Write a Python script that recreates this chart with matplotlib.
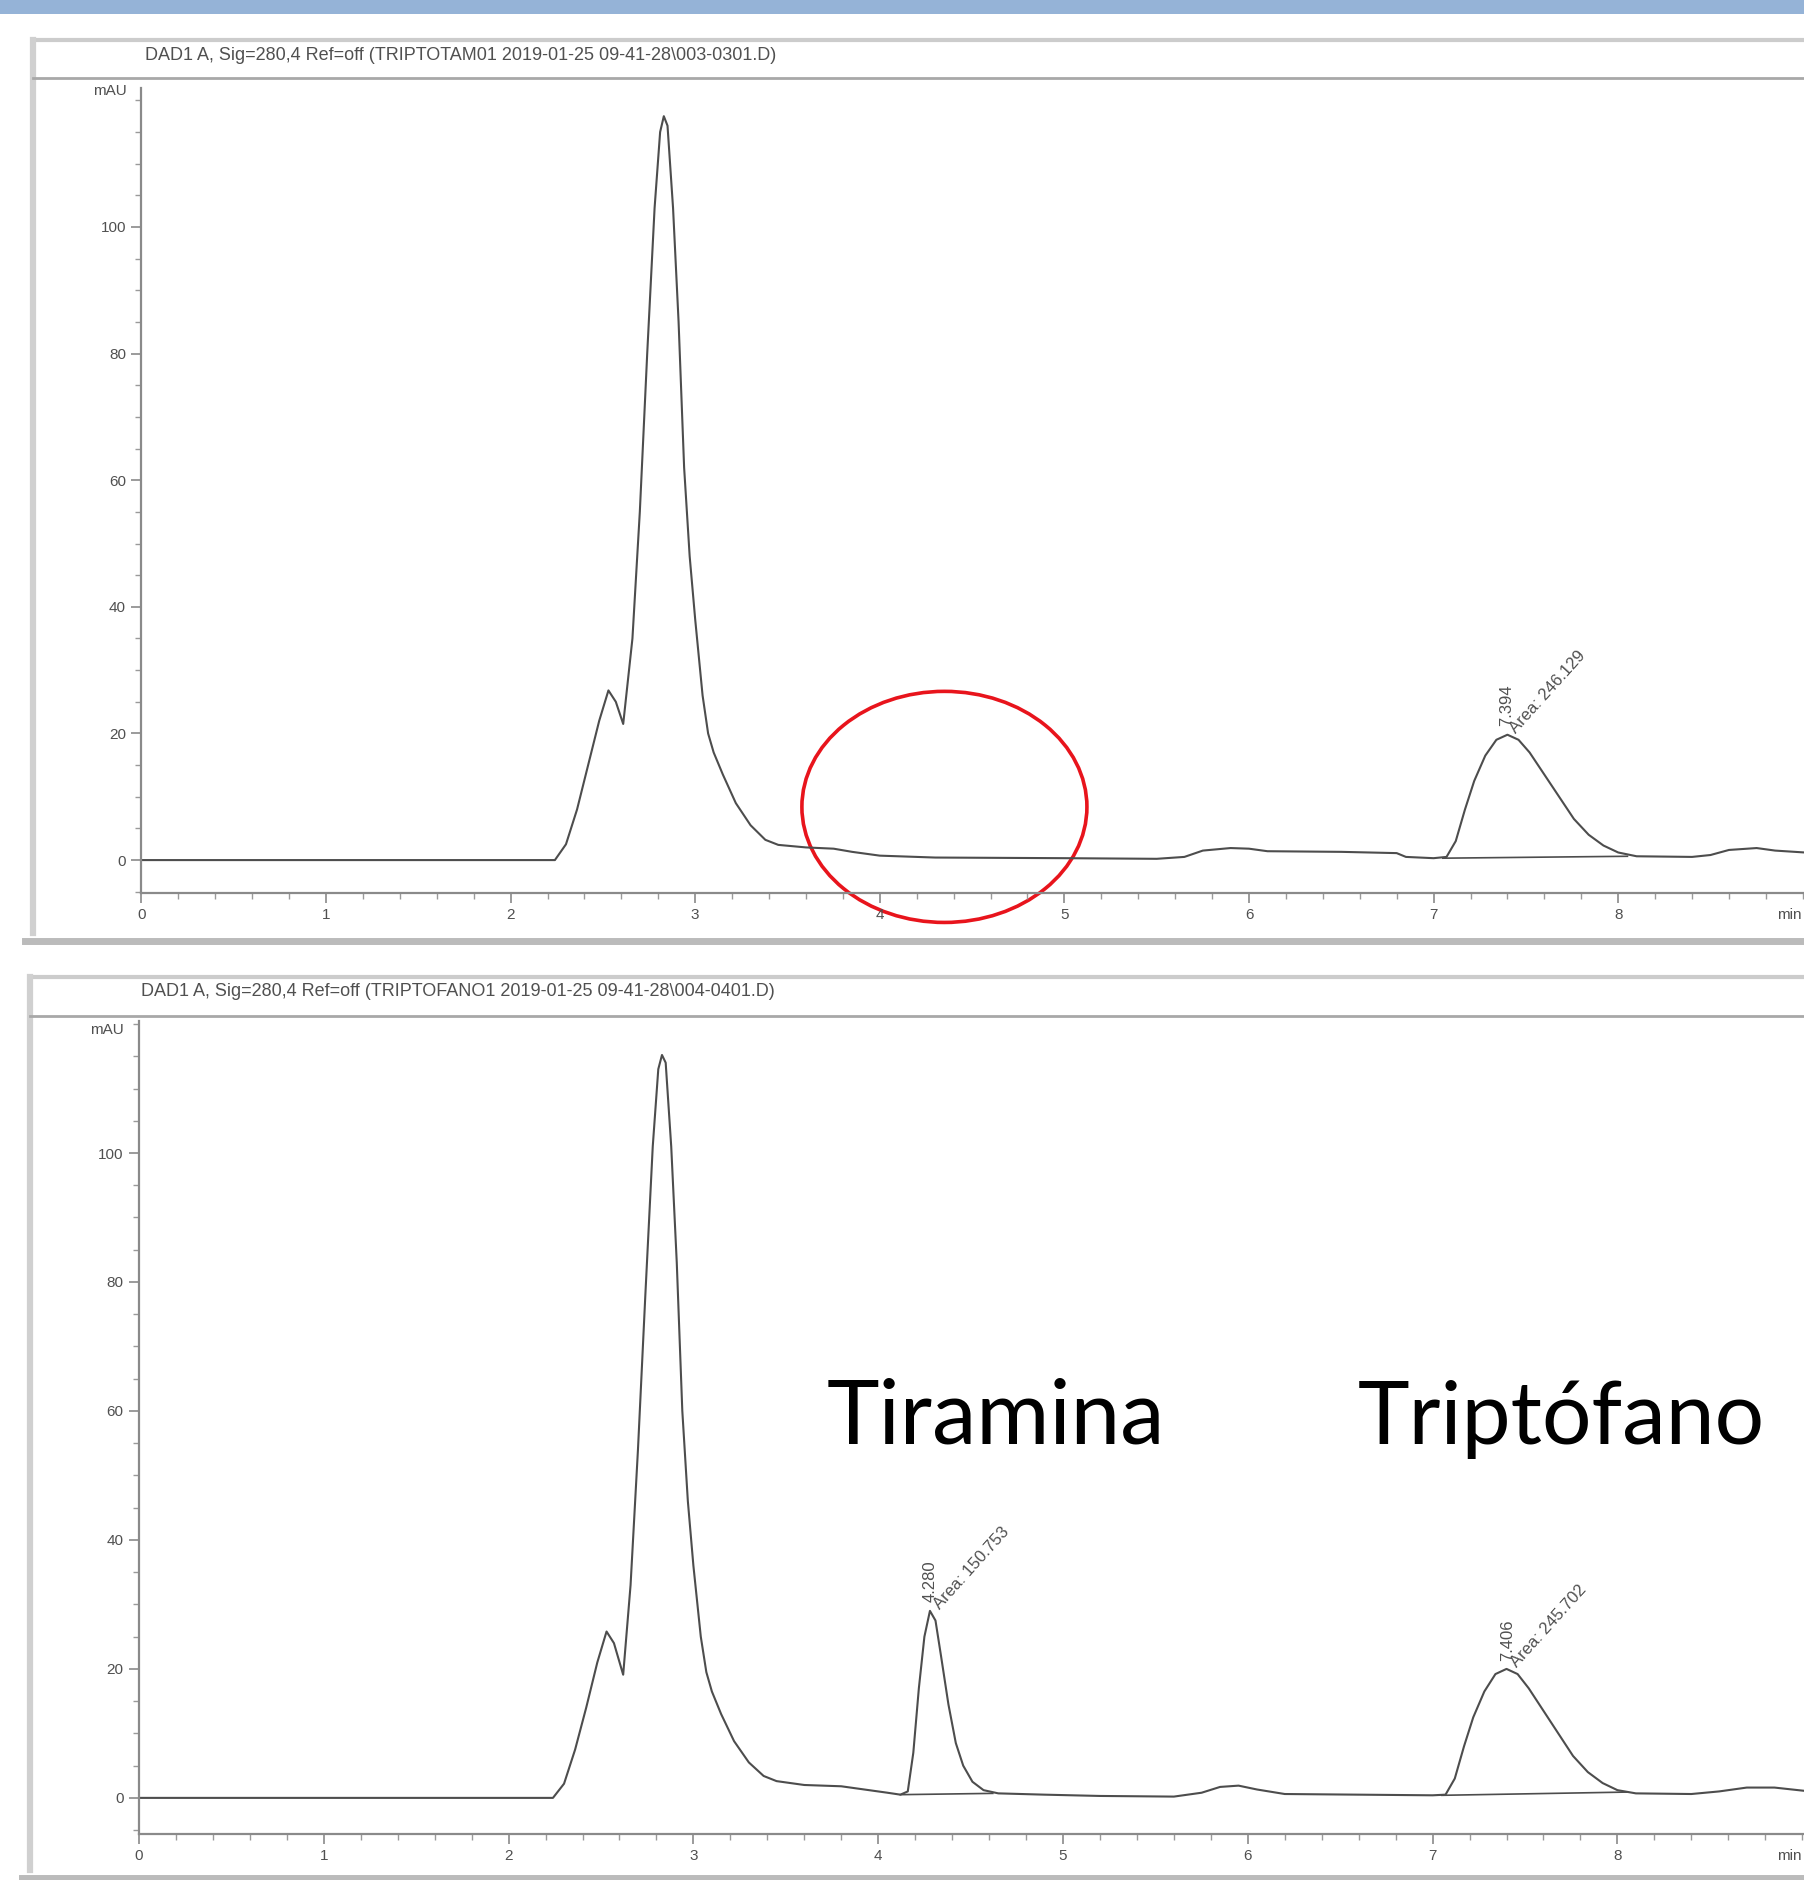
import matplotlib
matplotlib.use("Agg")
import matplotlib.pyplot as plt
from matplotlib.patches import Ellipse, Rectangle
from matplotlib.lines import Line2D
from matplotlib.ticker import MultipleLocator

W, H = 1804, 1880

# chromatogram 1 (standard, no tyramine)
top_time = [0.00, 2.24, 2.30, 2.36, 2.42, 2.48, 2.53, 2.57, 2.61, 2.66, 2.70, 2.74, 2.78, 2.81,
            2.83, 2.85, 2.88, 2.91, 2.94, 2.97, 3.00, 3.04, 3.07, 3.10, 3.15, 3.22, 3.30, 3.38,
            3.45, 3.60, 3.75, 3.85, 4.00, 4.30, 5.00, 5.50, 5.65, 5.75, 5.90, 6.00, 6.10, 6.50,
            6.80, 6.85, 7.00, 7.07, 7.12, 7.17, 7.22, 7.28, 7.34, 7.40, 7.46, 7.52, 7.60, 7.68,
            7.76, 7.84, 7.92, 8.00, 8.10, 8.40, 8.50, 8.60, 8.75, 8.85, 9.01]
top_mau = [0.0, 0.0, 2.5, 8.0, 15.0, 22.0, 26.8, 25.0, 21.5, 35.0, 55.0, 80.0, 103.0, 115.0,
           117.5, 116.0, 103.0, 85.0, 62.0, 48.0, 38.0, 26.0, 20.0, 17.0, 13.5, 9.0, 5.5, 3.2,
           2.4, 2.0, 1.8, 1.3, 0.7, 0.4, 0.3, 0.2, 0.5, 1.5, 1.9, 1.8, 1.4, 1.3,
           1.1, 0.5, 0.3, 0.5, 3.0, 8.0, 12.5, 16.5, 19.0, 19.8, 19.0, 17.0, 13.5, 10.0,
           6.5, 4.0, 2.3, 1.2, 0.6, 0.5, 0.8, 1.6, 1.9, 1.5, 1.2]

# chromatogram 2 (sample with tyramine)
bot_time = [0.00, 2.24, 2.30, 2.36, 2.42, 2.48, 2.53, 2.57, 2.62, 2.66, 2.70, 2.74, 2.78, 2.81,
            2.83, 2.85, 2.88, 2.91, 2.94, 2.97, 3.00, 3.04, 3.07, 3.10, 3.15, 3.22, 3.30, 3.38,
            3.45, 3.60, 3.80, 3.95, 4.05, 4.12, 4.16, 4.19, 4.22, 4.25, 4.28, 4.31, 4.34, 4.38,
            4.42, 4.46, 4.51, 4.57, 4.65, 4.90, 5.20, 5.60, 5.75, 5.85, 5.95, 6.05, 6.20, 6.60,
            7.00, 7.07, 7.12, 7.17, 7.22, 7.28, 7.34, 7.40, 7.46, 7.52, 7.60, 7.68, 7.76, 7.84,
            7.92, 8.00, 8.10, 8.40, 8.55, 8.70, 8.85, 9.01]
bot_mau = [0.0, 0.0, 2.2, 7.5, 14.0, 21.0, 25.8, 24.0, 19.1, 33.0, 54.0, 78.0, 101.0, 113.0,
           115.2, 114.0, 101.0, 83.0, 60.0, 46.0, 36.0, 25.0, 19.5, 16.5, 13.0, 8.8, 5.5, 3.4,
           2.6, 2.0, 1.8, 1.2, 0.8, 0.5, 1.0, 7.0, 17.0, 25.0, 29.0, 27.5, 22.0, 14.5,
           8.5, 5.0, 2.5, 1.2, 0.7, 0.5, 0.3, 0.2, 0.8, 1.7, 1.9, 1.3, 0.6, 0.5,
           0.4, 0.5, 3.0, 8.0, 12.5, 16.5, 19.2, 20.0, 19.2, 17.0, 13.5, 10.0, 6.5, 4.0,
           2.3, 1.2, 0.7, 0.6, 1.0, 1.6, 1.6, 1.1]

x_ticks = [0, 1, 2, 3, 4, 5, 6, 7, 8]
x_unit = "min"
y_ticks = [0, 20, 40, 60, 80, 100]

top_header = "DAD1 A, Sig=280,4 Ref=off (TRIPTOTAM01 2019-01-25 09-41-28\\003-0301.D)"
bot_header = "DAD1 A, Sig=280,4 Ref=off (TRIPTOFANO1 2019-01-25 09-41-28\\004-0401.D)"

# peak labels: retention time, apex height, rt text, area text
top_peaks = [(7.394, 19.8, "7.394", "Area: 246.129")]
bot_peaks = [(4.280, 29.0, "4.280", "Area: 150.753"),
             (7.406, 20.0, "7.406", "Area: 245.702")]

# integration baselines (start time, start level, end time, end level)
top_bases = [(7.05, 0.3, 8.05, 0.6)]
bot_bases = [(4.12, 0.5, 4.62, 0.7), (7.05, 0.4, 8.05, 0.9)]

compound_labels = ["Tiramina", "Triptófano"]

TXT = "#505050"


def fx(x):
    return x / W


def fy(y):
    return 1 - y / H


fig = plt.figure(figsize=(W / 100, H / 100), dpi=100)
fig.patch.set_facecolor("white")

# blue band on top of the slide
fig.add_artist(Rectangle((0, fy(14)), 1, 14 / H, transform=fig.transFigure,
                         facecolor="#95b3d7", edgecolor="none"))


def frame(top, sep, bottom, left):
    # window frame from the chromatography software
    fig.add_artist(Line2D([fx(left), 1], [fy(top), fy(top)], transform=fig.transFigure,
                          color="#cccccc", lw=3))
    fig.add_artist(Line2D([fx(left), fx(left)], [fy(top), fy(bottom - 8)],
                          transform=fig.transFigure, color="#d0d0d0", lw=4.5))
    fig.add_artist(Line2D([fx(left), 1], [fy(sep), fy(sep)], transform=fig.transFigure,
                          color="#a8a8a8", lw=2))
    fig.add_artist(Line2D([fx(left - 8), 1], [fy(bottom), fy(bottom)],
                          transform=fig.transFigure, color="#bbbbbb", lw=5))


frame(40, 78, 941, 33)
frame(977, 1016, 1878, 30)

fig.text(fx(145), fy(55), top_header, fontsize=13, color=TXT,
         family="Liberation Sans", va="center", ha="left")
fig.text(fx(141), fy(991), bot_header, fontsize=13, color=TXT,
         family="Liberation Sans", va="center", ha="left")


def draw_panel(ax, time, mau, peaks, bases, ymin, ymax, xmax, mau_y):
    ax.plot(time, mau, color="#4d4d4d", lw=1.5)
    for t0, v0, t1, v1 in bases:
        ax.plot([t0, t1], [v0, v1], color="#4d4d4d", lw=1.2)
    for rt, h, rt_txt, area_txt in peaks:
        ax.text(rt, h + 1.3, rt_txt, rotation=90, ha="center", va="bottom",
                fontsize=12, color=TXT, family="Liberation Sans")
        ax.text(rt + 0.035, h + 0.6, area_txt, rotation=48, rotation_mode="anchor",
                ha="left", va="center", fontsize=12, color=TXT,
                family="Liberation Sans")
    ax.set_xlim(0, xmax)
    ax.set_ylim(ymin, ymax)
    for s in ["top", "right"]:
        ax.spines[s].set_visible(False)
    for s in ["left", "bottom"]:
        ax.spines[s].set_color("#8a8a8a")
        ax.spines[s].set_linewidth(1.6)
    ax.set_xticks(x_ticks)
    ax.set_yticks(y_ticks)
    ax.xaxis.set_minor_locator(MultipleLocator(0.2))
    ax.yaxis.set_minor_locator(MultipleLocator(5))
    ax.tick_params(which="major", length=7, width=1.2, color="#8a8a8a",
                   labelsize=11, labelcolor=TXT, pad=4)
    ax.tick_params(which="minor", length=4, width=1.0, color="#9a9a9a")
    for lab in ax.get_xticklabels() + ax.get_yticklabels():
        lab.set_family("Liberation Sans")
    ax.text(-0.009, mau_y, "mAU", transform=ax.get_yaxis_transform(), ha="right",
            va="center", fontsize=11, color=TXT, family="Liberation Sans")
    # unit label at the right end of the time axis
    ax.annotate(x_unit, xy=(1.0, 0), xycoords="axes fraction", xytext=(-2, -11),
                textcoords="offset points", ha="right", va="top", fontsize=11,
                color=TXT, family="Liberation Sans")
    ax.patch.set_alpha(0)


# top panel: y=0 at 860 px, 6.33 px/mAU, x=0 at 141 px, 184.6 px/min
ax1 = fig.add_axes([fx(141.4), fy(893), (W - 141.4) / W, (893 - 87.7) / H])
draw_panel(ax1, top_time, top_mau, top_peaks, top_bases, -5.2, 122,
           (W - 141.4) / 184.6, 121.5)

# bottom panel: y=0 at 1798 px, 6.45 px/mAU, x=0 at 139 px
ax2 = fig.add_axes([fx(139), fy(1834), (W - 139) / W, (1834 - 1020.8) / H])
draw_panel(ax2, bot_time, bot_mau, bot_peaks, bot_bases, -5.6, 120.5,
           (W - 139) / 184.8, 119.0)

# red circle marking the missing tyramine peak
ax1.add_patch(Ellipse((4.35, 8.4), 1.544, 36.5, fill=False, edgecolor="#e8141c",
                      lw=2.6, clip_on=False))

# compound names
fig.text(fx(827), fy(1444), compound_labels[0], fontsize=64, family="Lato",
         color="black", ha="left", va="baseline")
fig.text(fx(1358), fy(1444), compound_labels[1], fontsize=63, family="Lato",
         color="black", ha="left", va="baseline")

fig.savefig("out.png", dpi=100)
